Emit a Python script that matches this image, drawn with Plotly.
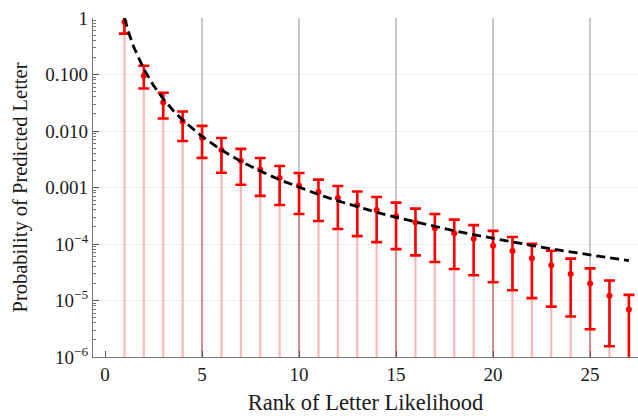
import plotly.graph_objects as go

# Rank of letter likelihood
ranks = list(range(1, 28))
# Mean probability of the predicted letter
prob_mean = [0.85, 0.095, 0.032, 0.0147, 0.0076, 0.00462, 0.00296, 0.00208, 0.00148,
             0.00108, 0.00083, 0.00065, 0.00049, 0.00040, 0.00031, 0.00024, 0.00019,
             0.000155, 0.000124, 9.3e-5, 7.5e-5, 5.6e-5, 4.2e-5, 2.95e-5, 2.0e-5,
             1.21e-5, 6.9e-6]
prob_upper = [1.3, 0.143, 0.0474, 0.0221, 0.0123, 0.0075, 0.00482, 0.00333, 0.0024,
              0.00181, 0.00138, 0.00106, 0.00085, 0.00068, 0.00054, 0.000423, 0.00034,
              0.00027, 0.000216, 0.000171, 0.000133, 0.000101, 7.6e-5, 5.5e-5, 3.7e-5,
              2.26e-5, 1.26e-5]
prob_lower = [0.53, 0.0565, 0.0166, 0.00667, 0.00334, 0.00182, 0.00112, 0.00071, 0.00049,
              0.00034, 0.000255, 0.000184, 0.000138, 0.000108, 8.1e-5, 6.3e-5, 4.8e-5,
              3.6e-5, 2.8e-5, 2.1e-5, 1.52e-5, 1.1e-5, 7.8e-6, 5.2e-6, 3.1e-6,
              1.55e-6, 5e-7]

# Dashed reference curve
curve_x = [1, 1.25, 1.5, 1.75, 2, 2.5, 3, 3.5, 4, 5, 6, 7, 8, 9, 10, 11, 12, 13, 14,
           15, 16, 17, 18, 19, 20, 21, 22, 23, 24, 25, 26, 27]
curve_y = [1.0, 0.512, 0.296, 0.187, 0.125, 0.064, 0.037, 0.0233, 0.0156, 0.008, 0.0046,
           0.0029, 0.00195, 0.00137, 0.001, 0.00075, 0.00058, 0.000455, 0.000364,
           0.000296, 0.000244, 0.000204, 0.000171, 0.000146, 0.000125, 0.000108,
           9.4e-5, 8.2e-5, 7.2e-5, 6.4e-5, 5.7e-5, 5.1e-5]

x_ticks = [0, 5, 10, 15, 20, 25]
y_tickvals = [1e-6, 1e-5, 1e-4, 1e-3, 1e-2, 1e-1, 1]
y_ticktext = ["10<sup>−6</sup>", "10<sup>−5</sup>", "10<sup>−4</sup>",
              "0.001", "0.010", "0.100", "1"]

stem_base = 1e-7

stem_x, stem_y = [], []
for r, m in zip(ranks, prob_mean):
    stem_x += [r, r, None]
    stem_y += [stem_base, m, None]

FONT = "Liberation Serif"

fig = go.Figure()
fig.add_trace(go.Scatter(x=stem_x, y=stem_y, mode="lines",
                         line=dict(color="rgba(255,0,0,0.28)", width=2.2),
                         hoverinfo="skip", showlegend=False))
fig.add_trace(go.Scatter(
    x=ranks, y=prob_mean, mode="markers",
    marker=dict(color="red", size=6),
    error_y=dict(type="data", symmetric=False,
                 array=[u - m for u, m in zip(prob_upper, prob_mean)],
                 arrayminus=[m - l for m, l in zip(prob_mean, prob_lower)],
                 color="red", thickness=2.6, width=5.5),
    showlegend=False))
fig.add_trace(go.Scatter(x=curve_x, y=curve_y, mode="lines",
                         line=dict(color="black", width=2.8, dash="9px,5px"),
                         showlegend=False))

fig.update_layout(
    width=638, height=416,
    margin=dict(l=93, r=0, t=18, b=59),
    plot_bgcolor="white", paper_bgcolor="white",
    font=dict(family=FONT, size=19, color="#1a1a1a"),
    xaxis=dict(range=[-0.62, 27.47], tickvals=x_ticks, ticks="inside", ticklen=6,
               tickcolor="#555", showgrid=False, zeroline=False,
               showline=True, linecolor="#777", linewidth=1.2,
               minor=dict(tickvals=[5, 10, 15, 20, 25], showgrid=True,
                          gridcolor="rgba(0,0,0,0.22)", gridwidth=1.6, ticks=""),
               title=dict(text="Rank of Letter Likelihood", font=dict(size=22.5), standoff=10)),
    yaxis=dict(type="log", range=[-6, 0], tickvals=y_tickvals, ticktext=y_ticktext,
               ticks="inside", ticklen=6, tickcolor="#555",
               showgrid=True, gridcolor="rgba(0,0,0,0.06)", gridwidth=1,
               zeroline=False, showline=True, linecolor="#777", linewidth=1.2,
               minor=dict(dtick="D1", ticks="inside", ticklen=3, tickcolor="#777",
                          showgrid=False),
               title=dict(text="Probability of Predicted Letter", font=dict(size=20.5), standoff=12)),
)

fig.write_html("out.html")
